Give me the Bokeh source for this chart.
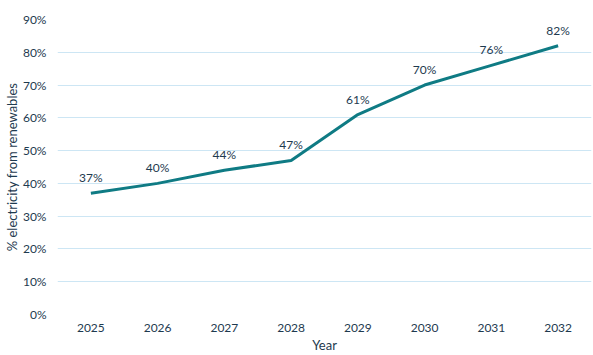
from bokeh.plotting import figure
from bokeh.models import ColumnDataSource, Range1d, FactorRange, CustomJSTickFormatter, FixedTicker
from bokeh.core.properties import value
from bokeh.embed import file_html
from bokeh.resources import INLINE

years = ["2025", "2026", "2027", "2028", "2029", "2030", "2031", "2032"]
share = [37, 40, 44, 47, 61, 70, 76, 82]
labels = [f"{v}%" for v in share]
y_ticks = [0, 10, 20, 30, 40, 50, 60, 70, 80, 90]

TEXT = "#1e3a4f"
LINE = "#0f7b84"
GRID = "#cde6f4"
FONT = "Lato"

src = ColumnDataSource(dict(x=years, y=share, lab=labels))

p = figure(width=593, height=355, x_range=FactorRange(*years), y_range=Range1d(0, 90),
           output_backend="svg", toolbar_location=None,
           min_border_left=57, min_border_right=2, min_border_top=19, min_border_bottom=41)
p.outline_line_color = None
p.background_fill_color = "white"

p.line("x", "y", source=src, line_color=LINE, line_width=3)
p.text("x", "y", text="lab", source=src, text_font=value(FONT), text_font_size="12px",
       text_color=TEXT, text_align="center", text_baseline="bottom", y_offset=-8)

p.xgrid.grid_line_color = None
p.ygrid.grid_line_color = GRID
p.ygrid.grid_line_width = 1
p.yaxis.ticker = FixedTicker(ticks=y_ticks)
p.yaxis.formatter = CustomJSTickFormatter(code="return tick + '%';")

for ax in (p.xaxis[0], p.yaxis[0]):
    ax.axis_line_color = None
    ax.major_tick_line_color = None
    ax.minor_tick_line_color = None
    ax.major_tick_out = 0
    ax.major_tick_in = 0
    ax.minor_tick_out = 0
    ax.minor_tick_in = 0
    ax.major_label_text_font = FONT
    ax.major_label_text_font_size = "12px"
    ax.major_label_text_color = TEXT
    ax.axis_label_text_font = FONT
    ax.axis_label_text_font_size = "13px"
    ax.axis_label_text_font_style = "normal"
    ax.axis_label_text_color = TEXT

p.xaxis.axis_label = "Year"
p.xaxis.major_label_standoff = 9
p.xaxis.axis_label_standoff = 2
p.yaxis.axis_label = "% electricity from renewables"
p.yaxis.major_label_standoff = 11
p.yaxis.axis_label_standoff = 0

open("out.html", "w").write(file_html(p, INLINE))
